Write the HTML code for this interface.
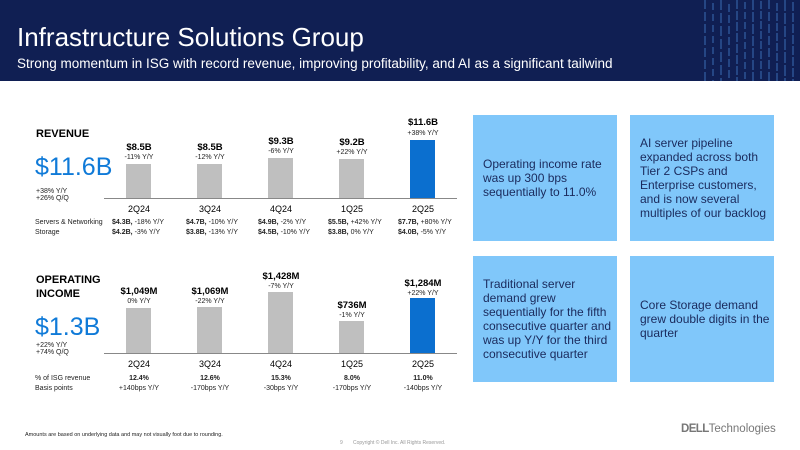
<!DOCTYPE html><html><head><style>
body{margin:0;width:800px;height:450px;position:relative;overflow:hidden;background:#fff;font-family:"Liberation Sans",sans-serif}
.a{position:absolute;white-space:nowrap}
.hd{position:absolute;left:0;top:0;width:800px;height:81px;background:#101f53}
.bar{position:absolute;width:25px;background:#bfbfbf}
.c{position:absolute;text-align:center;width:90px;white-space:nowrap}
.box{position:absolute;background:#80c7fa;color:#1a2a5c;font-size:12px;line-height:14px;box-sizing:border-box;padding:0 4px 0 10px;display:flex;align-items:center}
.s{font-size:7px;color:#222}
</style></head><body>
<div class="hd"></div>
<svg class="a" style="left:700px;top:0" width="100" height="81">
<g stroke="#3a6db5" stroke-width="1">
<line x1="5" y1="0" x2="5" y2="81" stroke-dasharray="9 3"/><line x1="13" y1="3" x2="13" y2="81" stroke-dasharray="7 4"/><line x1="21" y1="0" x2="21" y2="81" stroke-dasharray="10 3"/><line x1="29" y1="4" x2="29" y2="81" stroke-dasharray="8 3"/><line x1="37" y1="0" x2="37" y2="81" stroke-dasharray="9 2"/><line x1="45" y1="2" x2="45" y2="81" stroke-dasharray="7 3"/><line x1="53" y1="0" x2="53" y2="81" stroke-dasharray="10 2"/><line x1="61" y1="1" x2="61" y2="81" stroke-dasharray="8 2"/><line x1="69" y1="0" x2="69" y2="81" stroke-dasharray="9 3"/><line x1="77" y1="3" x2="77" y2="81" stroke-dasharray="8 2"/><line x1="85" y1="0" x2="85" y2="81" stroke-dasharray="11 2"/><line x1="93" y1="2" x2="93" y2="81" stroke-dasharray="9 2"/>
</g></svg>
<div class="a" style="left:17px;top:22px;font-size:26px;color:#fff">Infrastructure Solutions Group</div>
<div class="a" style="left:17px;top:56px;font-size:13.5px;color:#fff">Strong momentum in ISG with record revenue, improving profitability, and AI as a significant tailwind</div>

<!-- Revenue -->
<div class="a" style="left:36px;top:128px;font-size:11px;font-weight:bold">REVENUE</div>
<div class="a" style="left:35px;top:153px;font-size:25px;color:#0f7ad8">$11.6B</div>
<div class="a s" style="left:36px;top:188px">+38% Y/Y<br>+26% Q/Q</div>
<div class="a" style="left:104px;top:198px;width:353px;height:1px;background:#888"></div>
<div class="bar" style="left:126px;top:164px;height:34px"></div>
<div class="bar" style="left:197px;top:164px;height:34px"></div>
<div class="bar" style="left:268px;top:158px;height:40px"></div>
<div class="bar" style="left:339px;top:159px;height:39px"></div>
<div class="bar" style="left:410px;top:140px;height:58px;background:#0b6fcf"></div>
<div class="c" style="left:94px;top:142px;font-size:9.5px;font-weight:bold">$8.5B</div><div class="c s" style="left:94px;top:154px">-11% Y/Y</div>
<div class="c" style="left:165px;top:142px;font-size:9.5px;font-weight:bold">$8.5B</div><div class="c s" style="left:165px;top:154px">-12% Y/Y</div>
<div class="c" style="left:236px;top:136px;font-size:9.5px;font-weight:bold">$9.3B</div><div class="c s" style="left:236px;top:148px">-6% Y/Y</div>
<div class="c" style="left:307px;top:137px;font-size:9.5px;font-weight:bold">$9.2B</div><div class="c s" style="left:307px;top:149px">+22% Y/Y</div>
<div class="c" style="left:378px;top:117px;font-size:9.5px;font-weight:bold">$11.6B</div><div class="c s" style="left:378px;top:130px">+38% Y/Y</div>
<div class="c" style="left:94px;top:204px;font-size:9px">2Q24</div>
<div class="c" style="left:165px;top:204px;font-size:9px">3Q24</div>
<div class="c" style="left:236px;top:204px;font-size:9px">4Q24</div>
<div class="c" style="left:307px;top:204px;font-size:9px">1Q25</div>
<div class="c" style="left:378px;top:204px;font-size:9px">2Q25</div>
<div class="a s" style="left:35px;top:218px;line-height:10px">Servers &amp; Networking<br>Storage</div>
<div class="a s" style="left:112px;top:218px;line-height:10px"><b>$4.3B,</b> -18% Y/Y<br><b>$4.2B,</b> -3% Y/Y</div>
<div class="a s" style="left:186px;top:218px;line-height:10px"><b>$4.7B,</b> -10% Y/Y<br><b>$3.8B,</b> -13% Y/Y</div>
<div class="a s" style="left:258px;top:218px;line-height:10px"><b>$4.9B,</b> -2% Y/Y<br><b>$4.5B,</b> -10% Y/Y</div>
<div class="a s" style="left:328px;top:218px;line-height:10px"><b>$5.5B,</b> +42% Y/Y<br><b>$3.8B,</b> 0% Y/Y</div>
<div class="a s" style="left:398px;top:218px;line-height:10px"><b>$7.7B,</b> +80% Y/Y<br><b>$4.0B,</b> -5% Y/Y</div>

<!-- Operating income -->
<div class="a" style="left:36px;top:273px;font-size:11px;font-weight:bold;line-height:14px">OPERATING<br>INCOME</div>
<div class="a" style="left:35px;top:313px;font-size:25px;color:#0f7ad8">$1.3B</div>
<div class="a s" style="left:36px;top:342px">+22% Y/Y<br>+74% Q/Q</div>
<div class="a" style="left:104px;top:353px;width:353px;height:1px;background:#888"></div>
<div class="bar" style="left:126px;top:308px;height:45px"></div>
<div class="bar" style="left:197px;top:307px;height:46px"></div>
<div class="bar" style="left:268px;top:292px;height:61px"></div>
<div class="bar" style="left:339px;top:321px;height:32px"></div>
<div class="bar" style="left:410px;top:298px;height:55px;background:#0b6fcf"></div>
<div class="c" style="left:94px;top:286px;font-size:9.5px;font-weight:bold">$1,049M</div><div class="c s" style="left:94px;top:298px">0% Y/Y</div>
<div class="c" style="left:165px;top:286px;font-size:9.5px;font-weight:bold">$1,069M</div><div class="c s" style="left:165px;top:298px">-22% Y/Y</div>
<div class="c" style="left:236px;top:271px;font-size:9.5px;font-weight:bold">$1,428M</div><div class="c s" style="left:236px;top:283px">-7% Y/Y</div>
<div class="c" style="left:307px;top:300px;font-size:9.5px;font-weight:bold">$736M</div><div class="c s" style="left:307px;top:312px">-1% Y/Y</div>
<div class="c" style="left:378px;top:278px;font-size:9.5px;font-weight:bold">$1,284M</div><div class="c s" style="left:378px;top:290px">+22% Y/Y</div>
<div class="c" style="left:94px;top:359px;font-size:9px">2Q24</div>
<div class="c" style="left:165px;top:359px;font-size:9px">3Q24</div>
<div class="c" style="left:236px;top:359px;font-size:9px">4Q24</div>
<div class="c" style="left:307px;top:359px;font-size:9px">1Q25</div>
<div class="c" style="left:378px;top:359px;font-size:9px">2Q25</div>
<div class="a s" style="left:35px;top:374px;line-height:10px">% of ISG revenue<br>Basis points</div>
<div class="c s" style="left:94px;top:374px;line-height:10px"><b>12.4%</b><br>+140bps Y/Y</div>
<div class="c s" style="left:165px;top:374px;line-height:10px"><b>12.6%</b><br>-170bps Y/Y</div>
<div class="c s" style="left:236px;top:374px;line-height:10px"><b>15.3%</b><br>-30bps Y/Y</div>
<div class="c s" style="left:307px;top:374px;line-height:10px"><b>8.0%</b><br>-170bps Y/Y</div>
<div class="c s" style="left:378px;top:374px;line-height:10px"><b>11.0%</b><br>-140bps Y/Y</div>

<div class="box" style="left:473px;top:115px;width:144px;height:126px">Operating income rate was up 300 bps sequentially to 11.0%</div>
<div class="box" style="left:630px;top:115px;width:144px;height:126px;padding-right:2px">AI server pipeline expanded across both Tier 2 CSPs and Enterprise customers, and is now several multiples of our backlog</div>
<div class="box" style="left:473px;top:256px;width:144px;height:126px;padding-right:2px">Traditional server demand grew sequentially for the fifth consecutive quarter and was up Y/Y for the third consecutive quarter</div>
<div class="box" style="left:630px;top:256px;width:144px;height:126px">Core Storage demand grew double digits in the quarter</div>

<div class="a" style="left:25px;top:432px;font-size:5.5px;color:#222">Amounts are based on underlying data and may not visually foot due to rounding.</div>
<div class="a" style="left:340px;top:440px;font-size:5px;color:#999">9</div>
<div class="a" style="left:353px;top:440px;font-size:5px;color:#999">Copyright © Dell Inc. All Rights Reserved.</div>
<div class="a" style="left:681px;top:423px;font-size:11.5px;color:#777"><b style="letter-spacing:-0.6px">DELL</b>Technologies</div>
</body></html>
